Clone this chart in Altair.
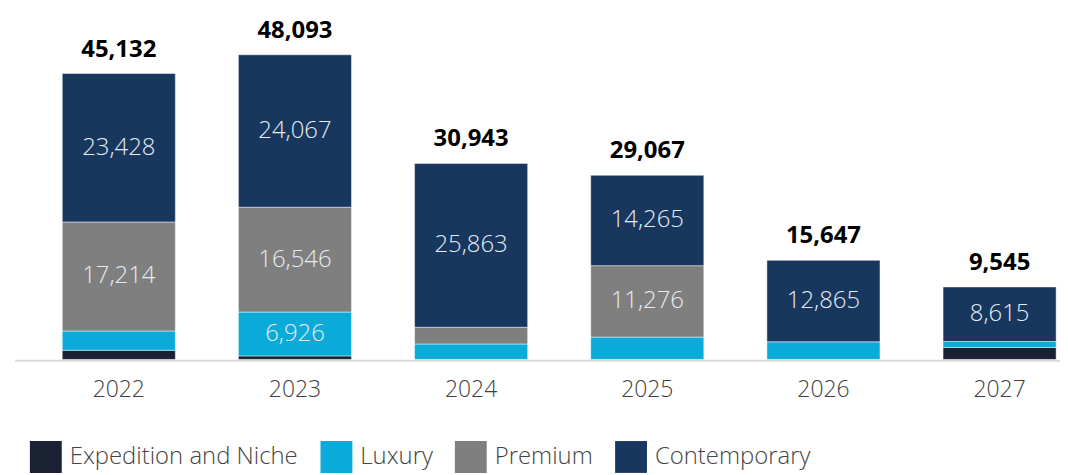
import altair as alt
import pandas as pd

years = ["2022", "2023", "2024", "2025", "2026", "2027"]
segments = ["Expedition and Niche", "Luxury", "Premium", "Contemporary"]
colors = ["#1a2133", "#0aabd9", "#7f7f7f", "#17375f"]
expedition = [1450, 554, 0, 0, 0, 1900]
luxury = [3040, 6926, 2440, 3526, 2782, 930]
premium = [17214, 16546, 2640, 11276, 0, 0]
contemporary = [23428, 24067, 25863, 14265, 12865, 8615]
totals = [45132, 48093, 30943, 29067, 15647, 9545]

series = [expedition, luxury, premium, contemporary]
rows = []
for si, (name, vals) in enumerate(zip(segments, series)):
    for y, v in zip(years, vals):
        if v > 0:
            rows.append({"year": y, "segment": name, "order": si, "value": v})
df = pd.DataFrame(rows)

tops = [sum(s[i] for s in series) for i in range(len(years))]
tdf = pd.DataFrame({"year": years, "top": tops, "total": totals})

W, H = 1050, 344
FONT = "Open Sans"

xscale = alt.Scale(domain=years, range=[47.5, 47.5 + 177 * (6 - 0.358)],
                   paddingInner=0.358, paddingOuter=0)
yscale = alt.Scale(domain=[0, 54042], nice=False, zero=True)

x_enc = alt.X("year:N", scale=xscale, sort=years,
              axis=alt.Axis(title=None, domain=False, ticks=False, labelAngle=0,
                            labelFontSize=23, labelFont=FONT, labelColor="#404040",
                            labelFontWeight=300, labelPadding=19))

bars = alt.Chart(df).mark_bar(stroke="white", strokeWidth=0.8, strokeOpacity=0.6).encode(
    x=x_enc,
    y=alt.Y("value:Q", stack="zero", scale=yscale, axis=None),
    order=alt.Order("order:Q", sort="ascending"),
    color=alt.Color("segment:N",
                    scale=alt.Scale(domain=segments, range=colors),
                    legend=alt.Legend(orient="none", legendX=15, legendY=426,
                                      direction="horizontal", title=None, padding=0,
                                      symbolType="square", symbolSize=1024,
                                      symbolStrokeWidth=0, symbolOpacity=1,
                                      labelFontSize=24, labelFont=FONT,
                                      labelFontWeight=300,
                                      labelColor="#444444", labelOffset=8,
                                      columnPadding=22, labelLimit=400)),
)

seg_labels = alt.Chart(df).transform_stack(
    stack="value", groupby=["year"], as_=["v0", "v1"],
    sort=[alt.SortField("order", order="ascending")]
).transform_calculate(
    mid="(datum.v0 + datum.v1) / 2"
).transform_filter(
    "datum.value >= 5000"
).mark_text(fontSize=24, font=FONT, fontWeight=300, color="#e6ecf3",
            baseline="middle").encode(
    x=alt.X("year:N", scale=xscale, sort=years),
    y=alt.Y("mid:Q", scale=yscale),
    text=alt.Text("value:Q", format=","),
)

total_labels = alt.Chart(tdf).mark_text(
    fontSize=24, font=FONT, fontWeight="bold", color="#000000",
    baseline="alphabetic", dy=-17
).encode(
    x=alt.X("year:N", scale=xscale, sort=years),
    y=alt.Y("top:Q", scale=yscale),
    text=alt.Text("total:Q", format=","),
)

axis_line = alt.Chart(pd.DataFrame({"a": [0]})).mark_rule(
    color="#d9d9d9", strokeWidth=2
).encode(x=alt.value(0), x2=alt.value(W), y=alt.value(H + 1.2))

chart = alt.layer(bars, seg_labels, total_labels, axis_line).properties(
    width=W, height=H,
    autosize=alt.AutoSizeParams(type="none"),
    padding={"left": 7, "top": 8, "right": 0, "bottom": 116},
).configure_view(stroke=None)

chart.save("out.html", embed_options={"renderer": "svg", "actions": False})
